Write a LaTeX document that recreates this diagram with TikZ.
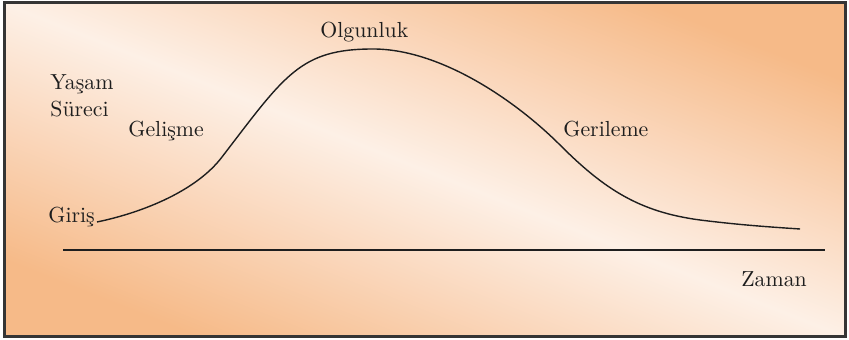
\documentclass[tikz,border=0pt]{standalone}
\usepackage{fontspec}
\usepackage{tikz}

\definecolor{peach}{HTML}{F6BA88}
\definecolor{apricot}{HTML}{FAD6BA}
\definecolor{cream}{HTML}{FDF0E6}
\definecolor{ink}{HTML}{1E1E1E}
\pgfdeclareverticalshading{bgfade}{100bp}{color(0bp)=(peach); color(25bp)=(peach); color(38bp)=(apricot); color(50bp)=(cream); color(62bp)=(apricot); color(75bp)=(peach); color(100bp)=(peach)}

\begin{document}
\begin{tikzpicture}[x=0.5pt, y=-0.5pt,
	every node/.style={font=\rmfamily\fontsize{10.9}{13}\selectfont, text=ink, inner sep=0pt},
	label/.style={anchor=base west},
	lifeline/.style={ink, line width=0.7pt}]
	\useasboundingbox (0,0) rectangle (849,340);
	\shade[shading=bgfade, shading angle=-21.6] (4,3) rectangle (845,337);
	\draw[ink!90, line width=1.5pt] (4,3) rectangle (845,337);
	% time axis
	\draw[lifeline] (63,250) -- (825,250);
	% life cycle curve
	\draw[lifeline] (97,222) .. controls (145,212) and (197,190) .. (222,157)
		.. controls (285,75) and (300,49) .. (373,49)
		.. controls (440,49) and (515,100) .. (560,145)
		.. controls (605,190) and (640,212) .. (700,220)
		.. controls (740,225) and (770,227) .. (800,229);
	\node[label] (yasam) at (50,90) {Yaşam};
	\node[label] (surec) at (50,117) {Süreci};
	\node[label] (gelisme) at (128,137) {Gelişme};
	\node[label] (giris) at (48,223) {Giriş};
	\node[label] (olgun) at (320,38) {Olgunluk};
	\node[label] (geri) at (563,137) {Gerileme};
	\node[label] (zaman) at (741,287) {Zaman};
\end{tikzpicture}
\end{document}
